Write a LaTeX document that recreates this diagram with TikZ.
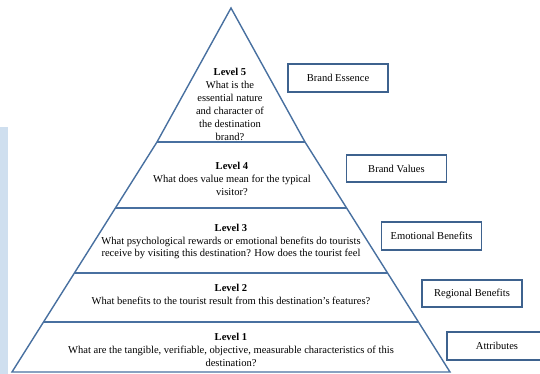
\documentclass[tikz,border=0pt]{standalone}
\usepackage{fontspec}
\setmainfont{Liberation Serif}
\definecolor{pyrline}{RGB}{72,112,160}
\definecolor{tagline}{RGB}{62,98,142}
\definecolor{sideband}{RGB}{207,223,239}

\begin{document}
\begin{tikzpicture}[x=0.025cm,y=-0.025cm,
  pyr/.style={draw=pyrline,line width=1pt,line join=miter},
  lvltext/.style={align=center,inner sep=0pt,font=\fontsize{7.5}{9.2}\selectfont},
  tagbox/.style={draw=tagline,line width=1.3pt,minimum width=2.5cm,minimum height=0.68cm,inner sep=0pt,font=\fontsize{7.5}{9}\selectfont}]
  \useasboundingbox (0,0) rectangle (540,374);
  \fill[sideband] (0,127) rectangle (8,374);
  % pyramid
  \draw[pyr] (231,8) -- (305,142) -- (450,372) -- (12,372) -- (157,142) -- cycle;
  \draw[pyr] (157,142) -- (305,142);
  \draw[pyr] (115.4,208) -- (346.6,208);
  \draw[pyr] (74.4,273) -- (387.6,273);
  \draw[pyr] (43.5,322) -- (418.5,322);
  % level texts
  \node[lvltext] (lv5) at (230,104.5) {\textbf{Level 5}\\What is the\\essential nature\\and character of\\the destination\\brand?};
  \node[lvltext] (lv4) at (232,178.5) {\textbf{Level 4}\\What does value mean for the typical\\visitor?};
  \node[lvltext] (lv3) at (231,241.5) {\textbf{Level 3}\\What psychological rewards or emotional benefits do tourists\\receive by visiting this destination? How does the tourist feel};
  \node[lvltext] (lv2) at (231,294.5) {\textbf{Level 2}\\What benefits to the tourist result from this destination's features?};
  \node[lvltext] (lv1) at (231,350) {\textbf{Level 1}\\What are the tangible, verifiable, objective, measurable characteristics of this\\destination?};
  % side tags
  \node[tagbox] (essence) at (338,78) {Brand Essence};
  \node[tagbox] (values) at (396.5,168.5) {Brand Values};
  \node[tagbox] (emotional) at (431.5,236) {Emotional Benefits};
  \node[tagbox] (regional) at (472,293.5) {Regional Benefits};
  \node[tagbox] (attributes) at (497,346) {Attributes};
\end{tikzpicture}
\end{document}
